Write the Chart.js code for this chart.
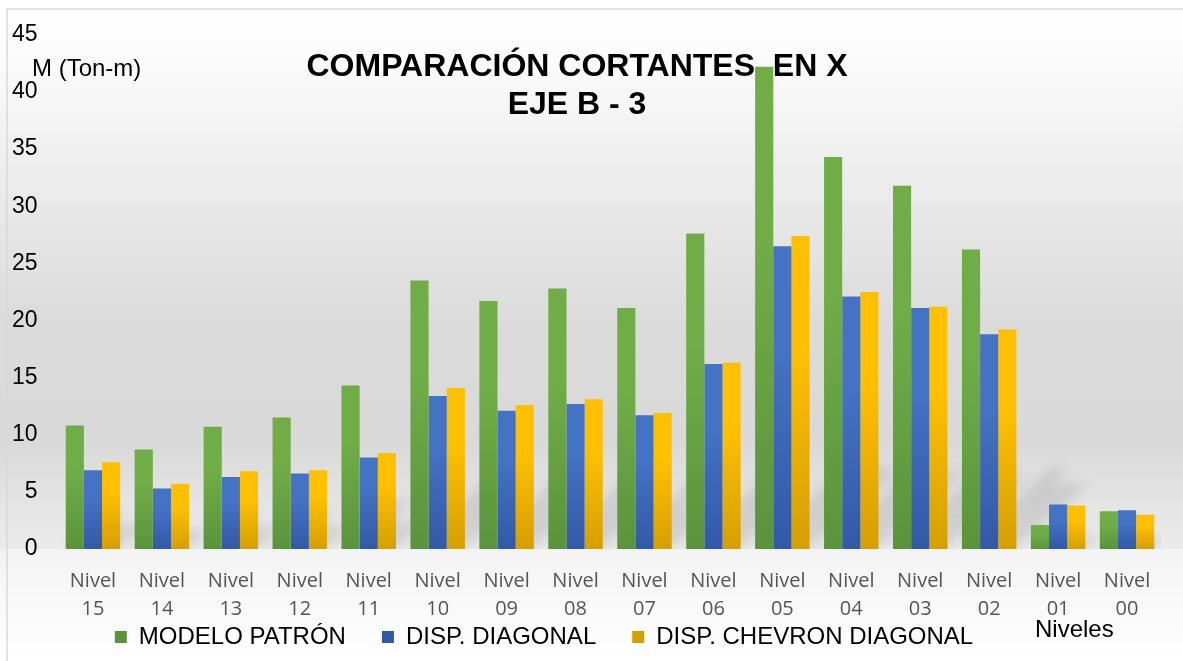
<!DOCTYPE html>
<html>
<head>
<meta charset="utf-8">
<title>Comparación cortantes en X - Eje B-3</title>
<script src="https://cdn.jsdelivr.net/npm/chart.js@4.4.1/dist/chart.umd.min.js"></script>
<style>
  html, body { margin: 0; padding: 0; background: #fff; }
  #wrap { width: 1183px; height: 661px; position: relative; }
</style>
</head>
<body>
<div id="wrap"><canvas id="myChart"></canvas></div>
<script>
// Niveles (de arriba hacia abajo)
const niveles = ['15', '14', '13', '12', '11', '10', '09', '08', '07', '06', '05', '04', '03', '02', '01', '00'];

// Cortantes M (Ton-m)
const modeloPatron   = [10.8, 8.7, 10.7, 11.5, 14.3, 23.5, 21.7, 22.8, 21.1, 27.6, 42.2, 34.3, 31.8, 26.2, 2.1, 3.3];
const dispDiagonal   = [6.9, 5.3, 6.3, 6.6, 8.0, 13.4, 12.1, 12.7, 11.7, 16.2, 26.5, 22.1, 21.1, 18.8, 3.9, 3.4];
const dispChevron    = [7.6, 5.7, 6.8, 6.9, 8.4, 14.1, 12.6, 13.1, 11.9, 16.3, 27.4, 22.5, 21.2, 19.2, 3.8, 3.0];

const yMin = 0, yMax = 45, yStep = 5;

const ARIAL = '"Liberation Sans", Arial, sans-serif';

// degradado vertical por barra (claro arriba, oscuro en la base)
function barFill(top, bottom) {
  return (c) => {
    if (c.type !== 'data') return top;
    const y = c.chart.scales.y;
    if (!y) return top;
    const y0 = y.getPixelForValue(0);
    const y1 = y.getPixelForValue(c.raw);
    if (!isFinite(y0) || !isFinite(y1) || y0 === y1) return top;
    const g = c.chart.ctx.createLinearGradient(0, y1, 0, y0);
    g.addColorStop(0, top);
    g.addColorStop(0.35, top);
    g.addColorStop(1, bottom);
    return g;
  };
}

// fondo gris degradado y borde del gráfico
const fondo = {
  id: 'fondo',
  beforeDraw(chart) {
    const {ctx, width, height, chartArea} = chart;
    const base = chartArea.bottom;
    ctx.save();
    let g = ctx.createLinearGradient(0, 9, 0, base);
    g.addColorStop(0, '#ffffff');
    g.addColorStop(0.1, '#fbfbfb');
    g.addColorStop(0.36, '#e9e9e9');
    g.addColorStop(0.58, '#dbdbdb');
    g.addColorStop(0.8, '#d9d9d9');
    g.addColorStop(0.9, '#e3e3e3');
    g.addColorStop(1, '#ebebeb');
    ctx.fillStyle = g;
    ctx.fillRect(0, 0, width, base);
    g = ctx.createLinearGradient(0, base, 0, height);
    g.addColorStop(0, '#f3f3f3');
    g.addColorStop(1, '#ffffff');
    ctx.fillStyle = g;
    ctx.fillRect(0, base, width, height - base);
    // borde
    ctx.strokeStyle = '#d9d9d9';
    ctx.lineWidth = 1.5;
    ctx.beginPath();
    ctx.moveTo(7, height);
    ctx.lineTo(7, 9);
    ctx.lineTo(width, 9);
    ctx.stroke();
    ctx.restore();
  },
  beforeDatasetsDraw(chart) {
    const {ctx, chartArea} = chart;
    ctx.save();
    // título (queda detrás de las barras)
    ctx.fillStyle = '#000';
    ctx.textAlign = 'center';
    ctx.textBaseline = 'alphabetic';
    ctx.font = 'bold 32px ' + ARIAL;
    ctx.fillText('COMPARACIÓN CORTANTES  EN X', 577, 76);
    ctx.fillText('EJE B - 3', 577, 114);

    // sombras oblicuas de las barras
    ctx.beginPath();
    ctx.rect(chartArea.left, chartArea.top, chartArea.right - chartArea.left, chartArea.bottom - chartArea.top);
    ctx.clip();
    ctx.filter = 'blur(6px)';
    ctx.fillStyle = 'rgba(0,0,0,0.10)';
    chart.data.datasets.forEach((ds, i) => {
      chart.getDatasetMeta(i).data.forEach(bar => {
        const {x, y, base, width} = bar.getProps(['x', 'y', 'base', 'width'], true);
        const h = base - y;
        const dy = Math.min(h * 0.3, 80);
        const dx = dy * 1.1;
        ctx.beginPath();
        ctx.moveTo(x - width / 2, base);
        ctx.lineTo(x + width / 2, base);
        ctx.lineTo(x + width / 2 + dx, base - dy);
        ctx.lineTo(x - width / 2 + dx, base - dy);
        ctx.closePath();
        ctx.fill();
      });
    });
    ctx.restore();
  },
  afterDraw(chart) {
    const {ctx} = chart;
    ctx.save();
    ctx.fillStyle = '#000';
    ctx.textAlign = 'left';
    ctx.textBaseline = 'middle';
    ctx.font = '24px ' + ARIAL;
    ctx.fillText('M (Ton-m)', 32, 69);
    ctx.fillText('Niveles', 1035, 630);
    ctx.restore();
  }
};

// la leyenda va un poco a la izquierda, dejando sitio a "Niveles";
// el eje X se alarga hacia abajo para que no se recorte la segunda línea
const ajustes = {
  id: 'ajustes',
  afterLayout(chart) {
    chart.legend.left -= 41;
    chart.legend.right -= 41;
    chart.scales.x.bottom += 60;
  }
};

const ctx = document.getElementById('myChart');

new Chart(ctx, {
  type: 'bar',
  data: {
    labels: niveles.map(n => ['Nivel', n]),
    datasets: [{
      label: 'MODELO PATRÓN',
      data: modeloPatron,
      backgroundColor: barFill('#70ad47', '#5b933c')
    }, {
      label: 'DISP. DIAGONAL',
      data: dispDiagonal,
      backgroundColor: barFill('#4472c4', '#3259a6')
    }, {
      label: 'DISP. CHEVRON DIAGONAL',
      data: dispChevron,
      backgroundColor: barFill('#ffc000', '#d59f00')
    }]
  },
  plugins: [fondo, ajustes],
  options: {
    responsive: true,
    maintainAspectRatio: false,
    animation: false,
    layout: { padding: { left: 8.5, right: 21.5, top: 23, bottom: 2 } },
    datasets: {
      bar: { categoryPercentage: 0.79, barPercentage: 1, borderWidth: 0 }
    },
    scales: {
      x: {
        grid: { display: false, drawTicks: false },
        border: { display: false },
        ticks: {
          color: '#555555',
          font: { family: '"Open Sans", sans-serif', size: 20, lineHeight: 1.4 },
          padding: 18,
          maxRotation: 0,
          autoSkip: false
        },
        afterFit(axis) { axis.height = 40; }
      },
      y: {
        min: yMin,
        max: yMax,
        grid: { display: false, drawTicks: false },
        border: { display: false },
        ticks: {
          stepSize: yStep,
          color: '#000',
          font: { family: ARIAL, size: 23 },
          padding: 21
        },
        afterFit(axis) { axis.width = 50; }
      }
    },
    plugins: {
      title: { display: false },
      tooltip: { enabled: false },
      legend: {
        position: 'bottom',
        labels: {
          boxWidth: 12,
          boxHeight: 12,
          padding: 36,
          color: '#000',
          font: { family: ARIAL, size: 24 }
        }
      }
    }
  }
});
</script>
</body>
</html>
